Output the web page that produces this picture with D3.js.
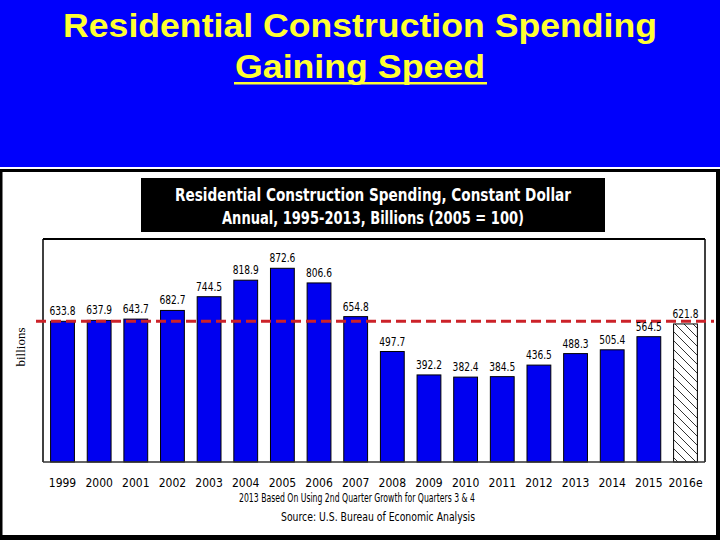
<!DOCTYPE html>
<html><head><meta charset="utf-8">
<script src="https://cdn.jsdelivr.net/npm/d3@7"></script>
<style>body{margin:0;background:#fff}svg{display:block}</style>
</head><body>
<svg id="c" width="720" height="540"></svg>
<script>
const years = ["1999","2000","2001","2002","2003","2004","2005","2006","2007","2008","2009","2010","2011","2012","2013","2014","2015","2016e"];
const values = [633.8,637.9,643.7,682.7,744.5,818.9,872.6,806.6,654.8,497.7,392.2,382.4,384.5,436.5,488.3,505.4,564.5,621.8];
const estimated = [false,false,false,false,false,false,false,false,false,false,false,false,false,false,false,false,false,true];
const referenceLevel = [633.8];
const yDomain = [0, 1000];
const mainTitle = ["Residential Construction Spending", "Gaining Speed"];
const boxTitle = ["Residential Construction Spending, Constant Dollar", "Annual, 1995-2013, Billions (2005 = 100)"];
const notes = ["2013 Based On Using 2nd Quarter Growth for Quarters 3 & 4", "Source: U.S. Bureau of Economic Analysis"];
const yLabel = "billions";

const svg = d3.select("#c");
const narrow = "'Liberation Sans Narrow','DejaVu Sans Condensed','Arial Narrow',sans-serif";

// Blue header
svg.append("rect").attr("x",0).attr("y",0).attr("width",720).attr("height",167).attr("fill","#0000fc");
svg.append("text").attr("x",360).attr("y",37).attr("text-anchor","middle")
  .attr("font-family","'Liberation Sans',Arial,sans-serif").attr("font-weight","bold").attr("font-size",34)
  .attr("fill","#ffff33").attr("textLength",594).attr("lengthAdjust","spacingAndGlyphs").text(mainTitle[0]);
svg.append("text").attr("x",360).attr("y",78).attr("text-anchor","middle")
  .attr("font-family","'Liberation Sans',Arial,sans-serif").attr("font-weight","bold").attr("font-size",34)
  .attr("fill","#ffff33").attr("textLength",250).attr("lengthAdjust","spacingAndGlyphs").text(mainTitle[1]);
svg.append("rect").attr("x",234).attr("y",82).attr("width",253).attr("height",2.5).attr("fill","#ffff33");

// Panel
svg.append("rect").attr("x",0).attr("y",167).attr("width",720).attr("height",2).attr("fill","#fff");
svg.append("rect").attr("x",1).attr("y",170.5).attr("width",717).attr("height",367).attr("fill","#fff")
  .attr("stroke","#000").attr("stroke-width",3);
svg.append("rect").attr("x",0).attr("y",535).attr("width",720).attr("height",5).attr("fill","#000");
svg.append("rect").attr("x",716).attr("y",169).attr("width",4).attr("height",371).attr("fill","#000");

// Title box
svg.append("rect").attr("x",141).attr("y",178).attr("width",464).attr("height",54).attr("fill","#000");
svg.append("text").attr("x",373).attr("y",201).attr("text-anchor","middle").attr("font-family",narrow)
  .attr("font-size",18).attr("font-weight","bold").attr("fill","#fff").attr("textLength",396).attr("lengthAdjust","spacingAndGlyphs").text(boxTitle[0]);
svg.append("text").attr("x",373).attr("y",224).attr("text-anchor","middle").attr("font-family",narrow)
  .attr("font-size",18).attr("font-weight","bold").attr("fill","#fff").attr("textLength",302).attr("lengthAdjust","spacingAndGlyphs").text(boxTitle[1]);

// Plot
const L = 43, R = 705, T = 239, B = 462;
const x = d3.scaleBand().domain(years).range([L+1, R-1]).paddingInner(0.35).paddingOuter(0.18);
const y = d3.scaleLinear().domain(yDomain).range([B, 240]);

// hatch pattern
const defs = svg.append("defs");
const pat = defs.append("pattern").attr("id","hatch").attr("patternUnits","userSpaceOnUse")
  .attr("width",9).attr("height",9);
pat.append("rect").attr("width",9).attr("height",9).attr("fill","#fff");
pat.append("path").attr("d","M-1,-1 L10,10 M-1,8 L1,10 M8,-1 L10,1").attr("stroke","#000").attr("stroke-width",0.8);

// frame
svg.append("line").attr("x1",L).attr("x2",R).attr("y1",T).attr("y2",T).attr("stroke","#000").attr("stroke-width",2);
svg.append("line").attr("x1",L).attr("x2",L).attr("y1",T).attr("y2",B).attr("stroke","#000").attr("stroke-width",1.5);
svg.append("line").attr("x1",R).attr("x2",R).attr("y1",T).attr("y2",B).attr("stroke","#000").attr("stroke-width",1.5);

// bars
svg.append("g").selectAll("rect").data(values).join("rect")
  .attr("x",(d,i)=>x(years[i])).attr("width",x.bandwidth())
  .attr("y",d=>y(d)).attr("height",d=>y(0)-y(d))
  .attr("fill",(d,i)=>estimated[i]?"url(#hatch)":"#0000f0")
  .attr("stroke","#000").attr("stroke-width",1);

// x axis
const xAxis = d3.axisBottom(x).tickSize(0).tickPadding(16);
const gx = svg.append("g").attr("transform",`translate(0,${B})`).call(xAxis);
gx.select(".domain").attr("stroke","#333").attr("stroke-width",1.5).attr("d",`M${L},0H${R}`);
gx.selectAll("text").attr("font-family",narrow).attr("font-size",12).attr("fill","#000");

// reference dashed line
svg.append("line").attr("x1",36).attr("x2",714).attr("y1",y(referenceLevel[0])).attr("y2",y(referenceLevel[0]))
  .attr("stroke","#cc2229").attr("stroke-width",3).attr("stroke-dasharray","10,5");

// value labels
svg.append("g").selectAll("text").data(values).join("text")
  .attr("x",(d,i)=>x(years[i])+x.bandwidth()/2).attr("y",d=>y(d)-6)
  .attr("text-anchor","middle").attr("font-family",narrow).attr("font-size",12).attr("fill","#000")
  .attr("textLength",26).attr("lengthAdjust","spacingAndGlyphs")
  .text(d=>d3.format(".1f")(d));

// y label
svg.append("text").attr("transform","translate(25,347) rotate(-90)").attr("text-anchor","middle")
  .attr("font-family","'Liberation Serif',serif").attr("font-size",13).attr("fill","#000").text(yLabel);

// notes
svg.append("text").attr("x",357).attr("y",502).attr("text-anchor","middle").attr("font-family",narrow)
  .attr("font-size",12).attr("fill","#000").attr("textLength",236).attr("lengthAdjust","spacingAndGlyphs").text(notes[0]);
svg.append("text").attr("x",378).attr("y",521).attr("text-anchor","middle").attr("font-family",narrow)
  .attr("font-size",12).attr("fill","#000").attr("textLength",194).attr("lengthAdjust","spacingAndGlyphs").text(notes[1]);
</script>
</body></html>
